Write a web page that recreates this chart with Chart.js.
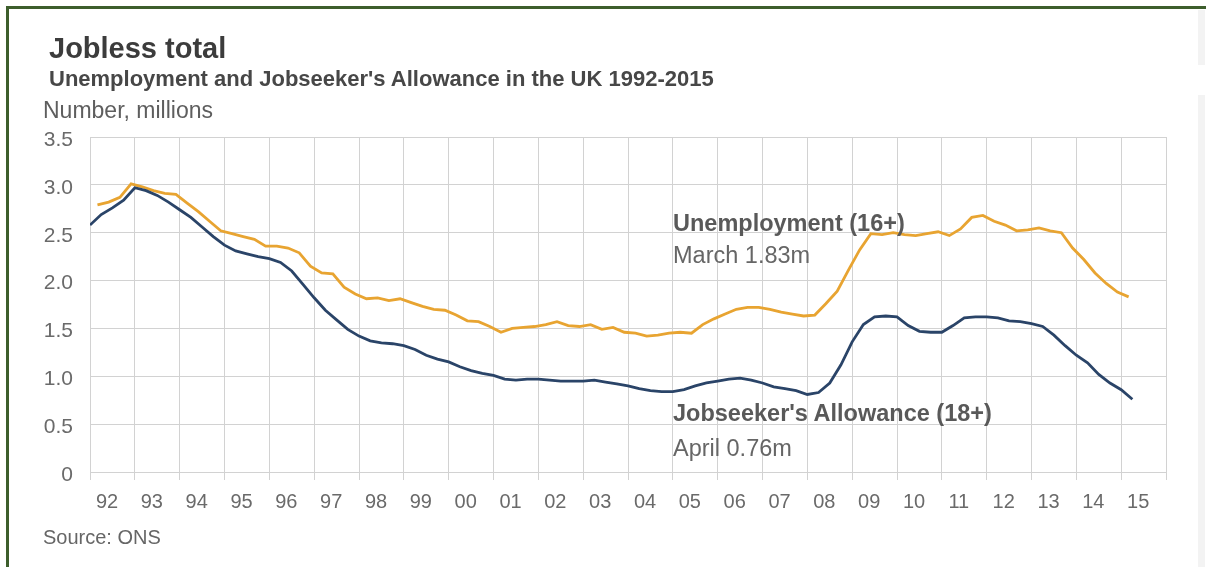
<!DOCTYPE html>
<html lang="en">
  <head>
    <meta charset="UTF-8" />
    <title>Jobless total</title>
    <script src="https://cdn.jsdelivr.net/npm/chart.js"></script>
    <style>
      html,
      body {
        margin: 0;
        padding: 0;
        background: #fff;
      }
      body {
        width: 1208px;
        height: 567px;
        position: relative;
        overflow: hidden;
        font-family: "Liberation Sans", Arial, sans-serif;
      }
      .frame {
        position: absolute;
        left: 6px;
        top: 6px;
        width: 1197px;
        height: 570px;
        border-top: 3px solid #3d5e2c;
        border-left: 3px solid #3d5e2c;
      }
      .strip {
        position: absolute;
        left: 1198px;
        width: 7px;
        background: #f3f3f3;
      }
      .chart-box {
        position: absolute;
        left: 0;
        top: 0;
        width: 1208px;
        height: 567px;
      }
      .txt {
        position: absolute;
        white-space: nowrap;
        line-height: 1;
      }
      .title {
        left: 49px;
        top: 34px;
        font-size: 29px;
        font-weight: bold;
        color: #3c3c3c;
      }
      .subtitle {
        left: 49px;
        top: 68px;
        font-size: 22px;
        font-weight: bold;
        color: #474747;
      }
      .unit {
        left: 43px;
        top: 99px;
        font-size: 23px;
        color: #5e5e5e;
      }
      .source {
        left: 43px;
        top: 527px;
        font-size: 20px;
        color: #666;
      }
      .note-b {
        font-size: 23.5px;
        font-weight: bold;
        color: #595959;
      }
      .note {
        font-size: 23.5px;
        color: #666;
      }
    </style>
  </head>
  <body>
    <div class="frame"></div>
    <div class="strip" style="top: 10px; height: 55px"></div>
    <div class="strip" style="top: 95px; height: 472px"></div>

    <div class="chart-box">
      <canvas id="jobless"></canvas>
    </div>

    <div class="txt title">Jobless total</div>
    <div class="txt subtitle">
      Unemployment and Jobseeker's Allowance in the UK 1992-2015
    </div>
    <div class="txt unit">Number, millions</div>

    <!-- line labels -->
    <div class="txt note-b" style="left: 673px; top: 212px">
      Unemployment (16+)
    </div>
    <div class="txt note" style="left: 673px; top: 244px">March 1.83m</div>
    <div class="txt note-b" style="left: 673px; top: 402px">
      Jobseeker's Allowance (18+)
    </div>
    <div class="txt note" style="left: 673px; top: 437px">April 0.76m</div>

    <div class="txt source">Source: ONS</div>

    <script>
      // tick labels
      const xTickLabels = [
        "92", "93", "94", "95", "96", "97", "98", "99", "00", "01", "02", "03",
        "04", "05", "06", "07", "08", "09", "10", "11", "12", "13", "14", "15",
      ];
      const yTickLabels = ["0", "0.5", "1.0", "1.5", "2.0", "2.5", "3.0", "3.5"];

      // Unemployment (16+), millions, every 3 months from March 1992 to March 2015
      const unempStart = [1992, 3];
      const unemployment = [
        2.79, 2.82, 2.87, 3.01,
        2.98, 2.94, 2.91, 2.9,
        2.81, 2.72, 2.62, 2.52,
        2.49, 2.46, 2.43, 2.36,
        2.36, 2.34, 2.29, 2.15,
        2.08, 2.07, 1.93, 1.86,
        1.81, 1.82, 1.79, 1.81,
        1.77, 1.73, 1.7, 1.69,
        1.64, 1.58, 1.57, 1.52,
        1.46, 1.5, 1.51, 1.52,
        1.54, 1.57, 1.53, 1.52,
        1.54, 1.49, 1.51, 1.46,
        1.45, 1.42, 1.43, 1.45,
        1.46, 1.45, 1.54, 1.6,
        1.65, 1.7, 1.72, 1.72,
        1.7, 1.67, 1.65, 1.63,
        1.64, 1.76, 1.89, 2.11,
        2.32, 2.49, 2.48, 2.5,
        2.48, 2.47, 2.49, 2.51,
        2.47, 2.54, 2.66, 2.68,
        2.62, 2.58, 2.52, 2.53,
        2.55, 2.52, 2.5, 2.34,
        2.22, 2.08, 1.97, 1.88,
        1.83,
      ];

      // Jobseeker's Allowance (18+), millions, every 3 months from January 1992 to April 2015
      const jsaStart = [1992, 1];
      const jobseekers = [
        2.58, 2.69, 2.76, 2.84,
        2.97, 2.94, 2.89, 2.82,
        2.74, 2.66, 2.56, 2.46,
        2.37, 2.31, 2.28, 2.25,
        2.23, 2.19, 2.1, 1.96,
        1.82, 1.69, 1.59, 1.49,
        1.42, 1.37, 1.35, 1.34,
        1.32, 1.28, 1.22, 1.18,
        1.15, 1.1, 1.06, 1.03,
        1.01, 0.97, 0.96, 0.97,
        0.97, 0.96, 0.95, 0.95,
        0.95, 0.96, 0.94, 0.92,
        0.9, 0.87, 0.85, 0.84,
        0.84, 0.86, 0.9, 0.93,
        0.95, 0.97, 0.98, 0.96,
        0.93, 0.89, 0.87, 0.85,
        0.81, 0.83, 0.93, 1.12,
        1.36, 1.54, 1.62, 1.63,
        1.62, 1.53, 1.47, 1.46,
        1.46, 1.53, 1.61, 1.62,
        1.62, 1.61, 1.58, 1.57,
        1.55, 1.52, 1.43, 1.32,
        1.22, 1.14, 1.02, 0.93,
        0.86, 0.76,
      ];

      // turn a quarterly series into {x: year, y: value} points
      function toPoints(start, values) {
        return values.map((v, i) => ({
          x: start[0] + (start[1] - 1 + i * 3) / 12,
          y: v,
        }));
      }

      const gridColor = "#d2d2d2";
      const tickColor = "#6a6a6a";
      const fontFamily = '"Liberation Sans", Arial, sans-serif';

      const ctx = document.getElementById("jobless").getContext("2d");
      new Chart(ctx, {
        type: "line",
        data: {
          datasets: [
            {
              label: "Jobseeker's Allowance (18+)",
              data: toPoints(jsaStart, jobseekers),
              borderColor: "#2a4468",
              borderWidth: 2.8,
              pointRadius: 0,
              tension: 0,
              fill: false,
            },
            {
              label: "Unemployment (16+)",
              data: toPoints(unempStart, unemployment),
              borderColor: "#e8a431",
              borderWidth: 2.8,
              pointRadius: 0,
              tension: 0,
              fill: false,
            },
          ],
        },
        options: {
          responsive: true,
          maintainAspectRatio: false,
          animation: false,
          layout: {
            padding: { top: 137, right: 42, bottom: 55, left: 0 },
          },
          plugins: {
            legend: { display: false },
            tooltip: { enabled: false },
          },
          scales: {
            x: {
              type: "linear",
              min: 1992,
              max: 2016,
              border: { display: false },
              grid: {
                color: gridColor,
                lineWidth: 1,
                drawTicks: true,
                tickLength: 8,
                tickColor: gridColor,
              },
              ticks: {
                stepSize: 1,
                autoSkip: false,
                maxRotation: 0,
                labelOffset: 17,
                padding: 10,
                color: tickColor,
                font: { family: fontFamily, size: 20 },
                callback: (value, index) => xTickLabels[index] ?? "",
              },
              afterFit: (scale) => {
                scale.height = 40;
              },
            },
            y: {
              min: 0,
              max: 3.5,
              border: { display: false },
              grid: {
                color: gridColor,
                lineWidth: 1,
                drawTicks: false,
              },
              ticks: {
                stepSize: 0.5,
                padding: 17,
                labelOffset: 3,
                color: tickColor,
                font: { family: fontFamily, size: 21 },
                callback: (value, index) => yTickLabels[index],
              },
              afterFit: (scale) => {
                scale.width = 90;
              },
            },
          },
        },
      });
    </script>
  </body>
</html>
